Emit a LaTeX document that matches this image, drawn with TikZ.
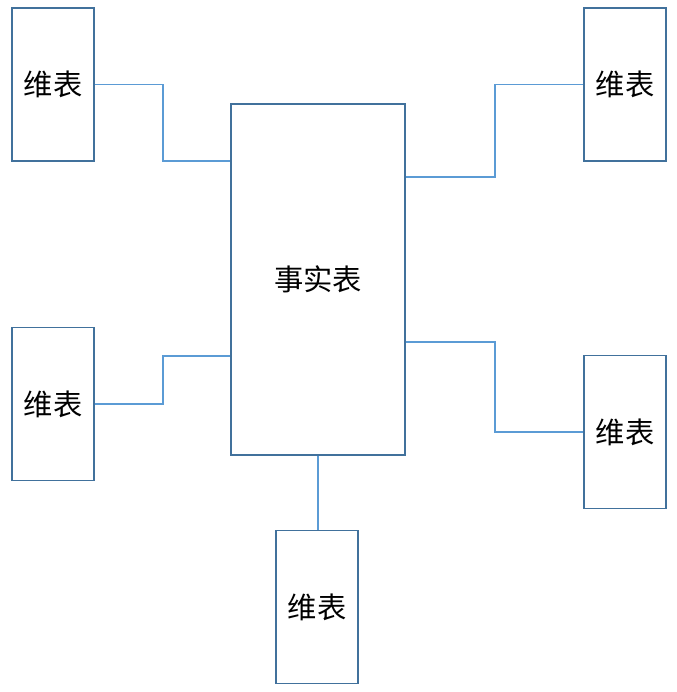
\documentclass[tikz,border=0pt]{standalone}
\usepackage{fontspec}
\newfontfamily\cjk{Noto Sans CJK SC}
\usetikzlibrary{positioning}
\definecolor{boxblue}{RGB}{65,113,156}
\definecolor{lineblue}{RGB}{91,155,213}

\tikzset{
  dimbox/.style={draw=boxblue, line width=1.1pt, fill=white, minimum width=82*0.03cm, minimum height=153*0.03cm, inner sep=0pt},
  factbox/.style={draw=boxblue, line width=1.1pt, fill=white, minimum width=174*0.03cm, minimum height=351*0.03cm, inner sep=0pt},
  link/.style={draw=lineblue, line width=0.9pt}
}

\begin{document}
\begin{tikzpicture}[x=0.03cm, y=-0.03cm, font=\cjk\fontsize{25}{30}\selectfont]
  \useasboundingbox (0,0) rectangle (677,692);
  \node[factbox] (fact) at (318,279.5) {事实表};
  \node[dimbox] (dimtl) at (53,84.5) {维表};
  \node[dimbox] (dimbl) at (53,404) {维表};
  \node[dimbox] (dimb) at (317,607) {维表};
  \node[dimbox] (dimtr) at (625,84.5) {维表};
  \node[dimbox] (dimr) at (625,432) {维表};
  % connectors
  \draw[link] (dimtl.east) -- (163,84.5) -- (163,161) -- (fact.west |- 0,161);
  \draw[link] (dimbl.east) -- (163,404) -- (163,356) -- (fact.west |- 0,356);
  \draw[link] (fact.east |- 0,177) -- (495,177) -- (495,84.5) -- (dimtr.west);
  \draw[link] (fact.east |- 0,342) -- (495,342) -- (495,432) -- (dimr.west);
  \draw[link] (fact.south) -- (fact.south |- dimb.north);
\end{tikzpicture}
\end{document}
